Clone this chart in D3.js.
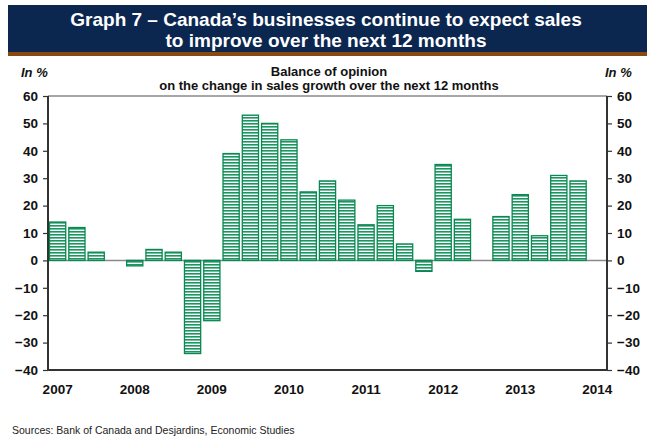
<!DOCTYPE html>
<html>
<head>
<meta charset="utf-8">
<script src="https://cdn.jsdelivr.net/npm/d3@7/dist/d3.min.js"></script>
<style>
  html, body { margin: 0; padding: 0; background: #fff; }
  svg { display: block; font-family: Arial, "Liberation Sans", sans-serif; }
</style>
</head>
<body>
<svg id="chart" width="647" height="438"></svg>
<script>
// Quarterly balance of opinion, 2007Q1 to 2014Q1 (null = no survey reading shown)
const quarters = [
  "2007Q1","2007Q2","2007Q3","2007Q4",
  "2008Q1","2008Q2","2008Q3","2008Q4",
  "2009Q1","2009Q2","2009Q3","2009Q4",
  "2010Q1","2010Q2","2010Q3","2010Q4",
  "2011Q1","2011Q2","2011Q3","2011Q4",
  "2012Q1","2012Q2","2012Q3","2012Q4",
  "2013Q1","2013Q2","2013Q3","2013Q4",
  "2014Q1"
];
const balance = [
  14, 12, 3, null,
  -2, 4, 3, -34,
  -22, 39, 53, 50,
  44, 25, 29, 22,
  13, 20, 6, -4,
  35, 15, null, 16,
  24, 9, 31, 29,
  null
];
const yearLabels = ["2007","2008","2009","2010","2011","2012","2013","2014"];
const yTicks = [-40, -30, -20, -10, 0, 10, 20, 30, 40, 50, 60];

const svg = d3.select("#chart");
const W = 647;

// Title banner
svg.append("rect").attr("x", 8).attr("y", 5).attr("width", W - 8).attr("height", 47).attr("fill", "#0b2750");
svg.append("rect").attr("x", 8).attr("y", 52).attr("width", W - 8).attr("height", 4).attr("fill", "#8a4a0e");
svg.append("text").attr("x", 326).attr("y", 26).attr("text-anchor", "middle")
  .attr("fill", "#fff").attr("font-size", 19).attr("font-weight", "bold")
  .text("Graph 7 – Canada’s businesses continue to expect sales");
svg.append("text").attr("x", 326).attr("y", 47).attr("text-anchor", "middle")
  .attr("fill", "#fff").attr("font-size", 19).attr("font-weight", "bold")
  .text("to improve over the next 12 months");

// Unit labels and subtitle
svg.append("text").attr("x", 21).attr("y", 77).attr("font-size", 13).attr("font-weight", "bold")
  .attr("font-style", "italic").attr("fill", "#111").text("In %");
svg.append("text").attr("x", 605).attr("y", 77).attr("font-size", 13).attr("font-weight", "bold")
  .attr("font-style", "italic").attr("fill", "#111").text("In %");
svg.append("text").attr("x", 329).attr("y", 76).attr("text-anchor", "middle").attr("font-size", 13)
  .attr("font-weight", "bold").attr("fill", "#111").text("Balance of opinion");
svg.append("text").attr("x", 329).attr("y", 90).attr("text-anchor", "middle").attr("font-size", 13)
  .attr("font-weight", "bold").attr("fill", "#111").text("on the change in sales growth over the next 12 months");

// Plot area
const plotLeft = 48, plotRight = 607, plotTop = 96, plotBottom = 370;

const x = d3.scaleBand().domain(quarters).range([plotLeft, plotRight]).paddingInner(0.16).paddingOuter(0.08);
const y = d3.scaleLinear().domain([-40, 60]).range([plotBottom, plotTop]);

// Striped fill for the bars
const defs = svg.append("defs");
const pat = defs.append("pattern").attr("id", "stripes").attr("patternUnits", "userSpaceOnUse")
  .attr("width", 6).attr("height", 3);
pat.append("rect").attr("width", 6).attr("height", 3).attr("fill", "#ffffff");
pat.append("rect").attr("y", 0).attr("width", 6).attr("height", 1.6).attr("fill", "#1a9660");

// Top frame line and zero line
svg.append("line").attr("x1", plotLeft).attr("x2", plotRight).attr("y1", plotTop).attr("y2", plotTop)
  .attr("stroke", "#8a8a8a").attr("stroke-width", 1.5);
svg.append("line").attr("x1", plotLeft).attr("x2", plotRight).attr("y1", y(0)).attr("y2", y(0))
  .attr("stroke", "#8a8a8a").attr("stroke-width", 1.5);

// Bars
const data = quarters.map((q, i) => ({ q, v: balance[i] })).filter(d => d.v !== null);
svg.append("g").selectAll("rect").data(data).join("rect")
  .attr("x", d => x(d.q))
  .attr("width", x.bandwidth())
  .attr("y", d => y(Math.max(0, d.v)))
  .attr("height", d => Math.abs(y(d.v) - y(0)))
  .attr("fill", "url(#stripes)")
  .attr("stroke", "#0a8752")
  .attr("stroke-width", 1.3);

// Axes
const yLeft = d3.axisLeft(y).tickValues(yTicks).tickSize(5).tickPadding(5).tickFormat(d3.format("d"));
const yRight = d3.axisRight(y).tickValues(yTicks).tickSize(5).tickPadding(5).tickFormat(d3.format("d"));

function styleAxis(g) {
  g.select(".domain").attr("stroke", "#333").attr("stroke-width", 2);
  g.selectAll(".tick line").attr("stroke", "#333").attr("stroke-width", 1.2);
  g.selectAll(".tick text").attr("font-size", 13.5).attr("font-weight", "bold").attr("fill", "#111")
    .attr("font-family", "Arial, 'Liberation Sans', sans-serif");
}

svg.append("g").attr("transform", `translate(${plotLeft},0)`).call(yLeft).call(styleAxis)
  .call(g => g.select(".domain").attr("d", `M0,${plotTop}V${plotBottom}`));
svg.append("g").attr("transform", `translate(${plotRight},0)`).call(yRight).call(styleAxis)
  .call(g => g.select(".domain").attr("d", `M0,${plotTop}V${plotBottom}`));

// Bottom axis with year labels at each first quarter
const yearQuarters = yearLabels.map(yr => yr + "Q1");
const xAxis = d3.axisBottom(x).tickValues(yearQuarters).tickSize(0).tickPadding(14)
  .tickFormat(q => q.slice(0, 4));
svg.append("g").attr("transform", `translate(0,${plotBottom})`).call(xAxis).call(styleAxis)
  .call(g => g.select(".domain").attr("d", `M${plotLeft},0H${plotRight}`));

// Source note
svg.append("text").attr("x", 12).attr("y", 434).attr("font-size", 10.5).attr("fill", "#222")
  .text("Sources: Bank of Canada and Desjardins, Economic Studies");
</script>
</body>
</html>
